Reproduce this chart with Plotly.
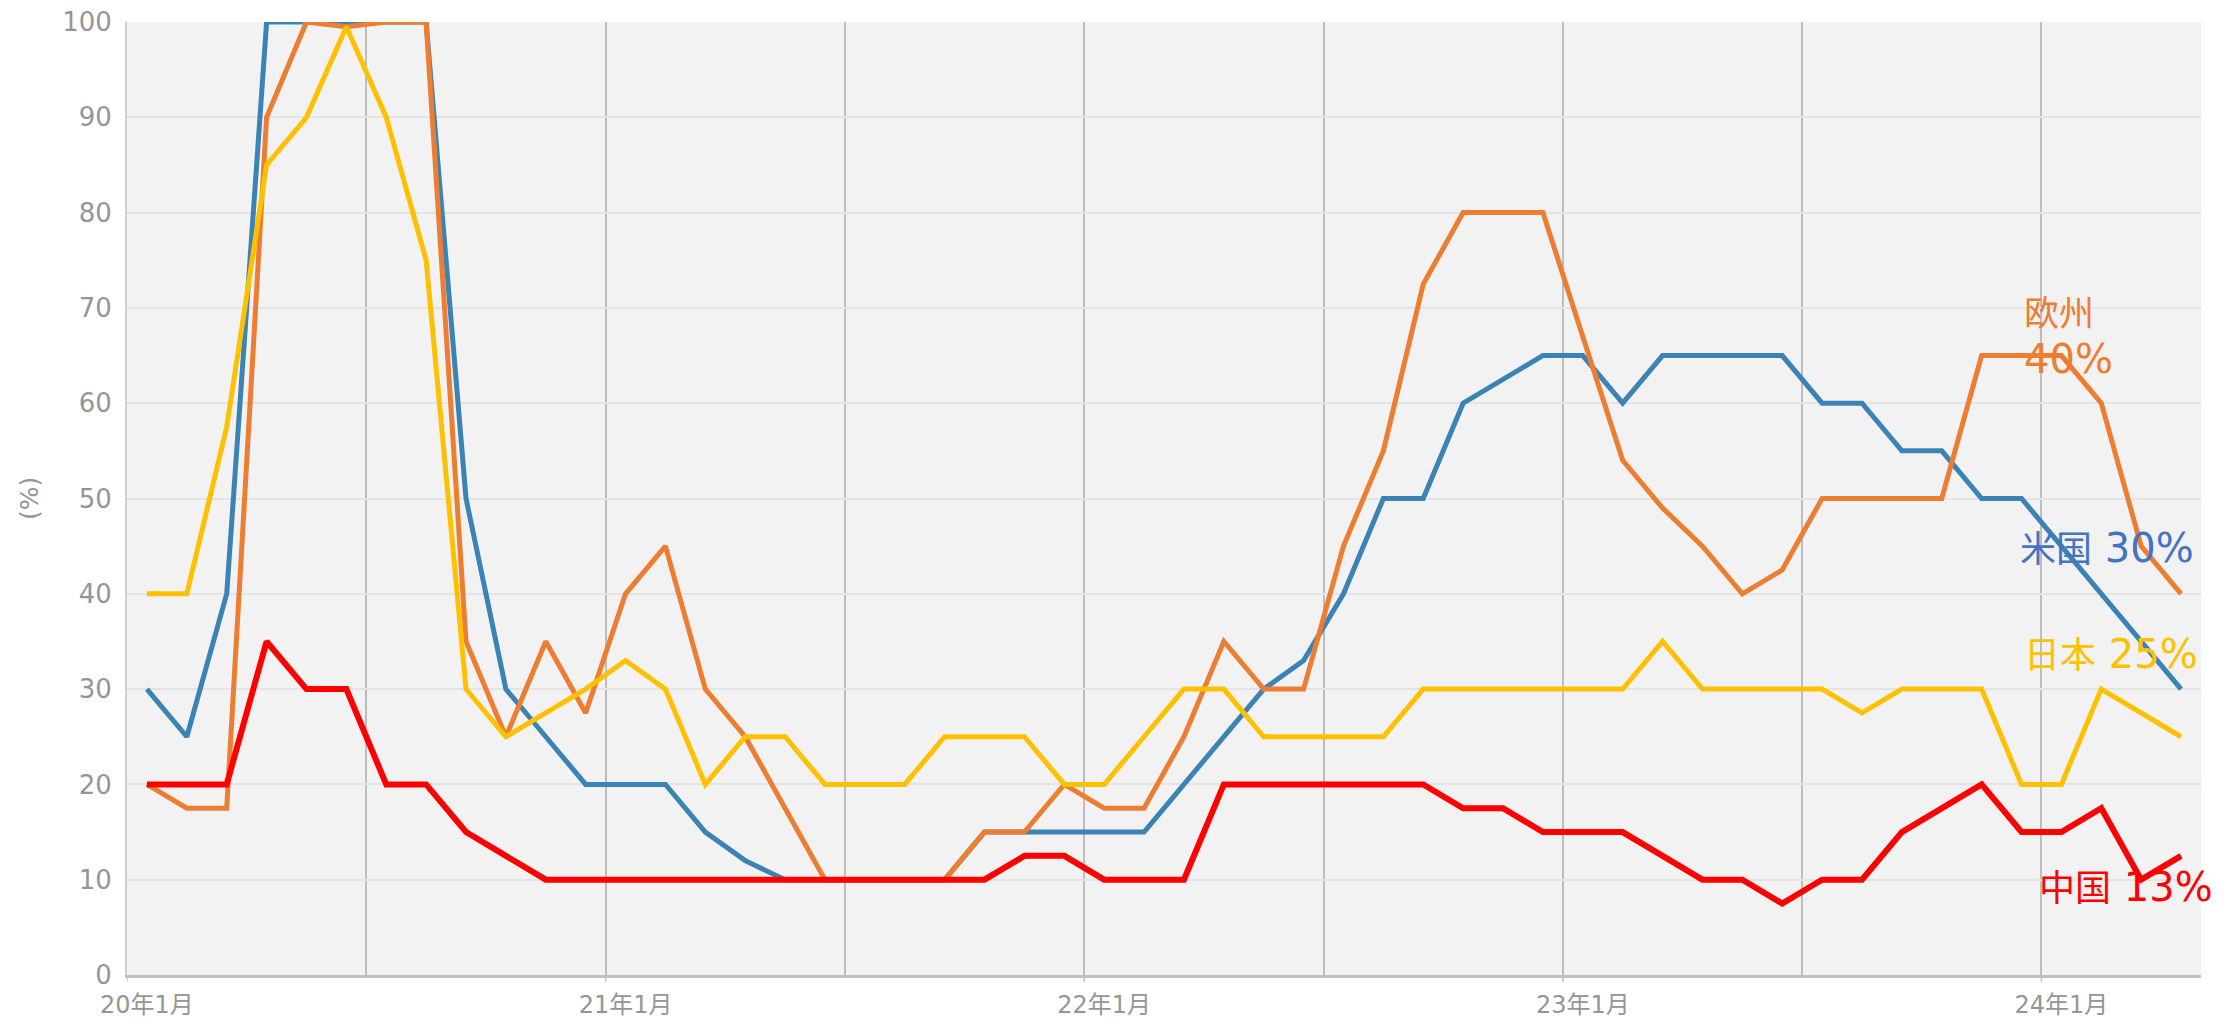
import plotly.graph_objects as go

# ---- data ----
months = [f"{y}年{m}月" for y in range(20, 25) for m in range(1, 13)][:52]

us = [30, 25, 40, 100, 100, 100, 100, 100, 50, 30, 25, 20,
      20, 20, 15, 12, 10, 10, 10, 10, 10, 15, 15, 15,
      15, 15, 20, 25, 30, 33, 40, 50, 50, 60, 62.5, 65,
      65, 60, 65, 65, 65, 65, 60, 60, 55, 55, 50, 50,
      45, 40, 35, 30]

europe = [20, 17.5, 17.5, 90, 100, 99.5, 100, 100, 35, 25, 35, 27.5,
          40, 45, 30, 25, 17.5, 10, 10, 10, 10, 15, 15, 20,
          17.5, 17.5, 25, 35, 30, 30, 45, 55, 72.5, 80, 80, 80,
          67, 54, 49, 45, 40, 42.5, 50, 50, 50, 50, 65, 65,
          65, 60, 45, 40]

japan = [40, 40, 57.5, 85, 90, 99.5, 90, 75, 30, 25, 27.5, 30,
         33, 30, 20, 25, 25, 20, 20, 20, 25, 25, 25, 20,
         20, 25, 30, 30, 25, 25, 25, 25, 30, 30, 30, 30,
         30, 30, 35, 30, 30, 30, 30, 27.5, 30, 30, 30, 20,
         20, 30, 27.5, 25]

china = [20, 20, 20, 35, 30, 30, 20, 20, 15, 12.5, 10, 10,
         10, 10, 10, 10, 10, 10, 10, 10, 10, 10, 12.5, 12.5,
         10, 10, 10, 20, 20, 20, 20, 20, 20, 17.5, 17.5, 15,
         15, 15, 12.5, 10, 10, 7.5, 10, 10, 15, 17.5, 20, 15,
         15, 17.5, 10, 12.5]

series_names = ["米国", "欧州", "日本", "中国"]
series_values = [us, europe, japan, china]
line_colors = ["#3A83B4", "#ED7D31", "#FFC000", "#FF0000"]
line_widths = [5, 5, 5, 6]
label_colors = ["#4472C4", "#ED7D31", "#FFC000", "#FF0000"]
end_labels = ["30%", "40%", "25%", "13%"]

LATIN = "DejaVu Sans, Noto Sans CJK JP"
TICK_COLOR = "#959595"

# ---- figure ----
x_idx = list(range(len(months)))
fig = go.Figure()
for name, vals, col, w in zip(series_names, series_values, line_colors, line_widths):
    fig.add_trace(go.Scatter(x=x_idx, y=vals, mode="lines", name=name,
                             line=dict(color=col, width=w), showlegend=False,
                             cliponaxis=False))

year_starts = [i for i, m in enumerate(months) if m.endswith("年1月")]
half_bounds = [i - 0.5 for i in range(6, len(months), 6)]
year_bounds = [i - 0.5 for i in year_starts]

fig.update_layout(
    width=2234, height=1020,
    margin=dict(l=119, r=41, t=14, b=53),
    paper_bgcolor="white", plot_bgcolor="#F2F2F2",
    font=dict(family=LATIN, color=TICK_COLOR),
)
fig.update_xaxes(
    range=[-0.5, len(months) - 0.5],
    tickmode="array", tickvals=year_starts,
    ticktext=[months[i] for i in year_starts],
    tickfont=dict(size=24, color=TICK_COLOR, family=LATIN),
    ticks="", showgrid=False, zeroline=False, automargin=False,
    showline=True, linecolor="#C0C0C0", linewidth=2.5,
    ticklabelstandoff=6,
    minor=dict(tickmode="array", tickvals=half_bounds, showgrid=True,
               gridcolor="#BDBDBD", gridwidth=1.5, ticks=""),
)
fig.update_yaxes(
    range=[0, 100], dtick=10,
    tickfont=dict(size=26, color=TICK_COLOR, family=LATIN),
    showgrid=True, gridcolor="#E4E4E4", gridwidth=2,
    zeroline=False, showline=True, linecolor="#CFCFCF", linewidth=2,
    ticks="", ticklen=0, ticklabelstandoff=8, automargin=False,
    ticklabeloverflow="allow",
)

# y-axis title
fig.add_annotation(x=-0.047, y=0.5, xref="paper", yref="paper",
                   text="(%)", textangle=-90, showarrow=False,
                   xanchor="center", yanchor="middle",
                   font=dict(size=25, color=TICK_COLOR, family=LATIN))

for b in year_bounds:
    fig.add_shape(type="line", xref="x", yref="paper", x0=b, x1=b,
                  y0=0, y1=-0.007, line=dict(color="#C0C0C0", width=1.5))

# end labels
def lab(name, val, size_cjk=36):
    return f"<span style='font-size:{size_cjk}px'>{name}</span> {val}"

fig.add_annotation(x=46.9, y=44.8, xref="x", yref="y", xanchor="left", yanchor="middle",
                   text=lab(series_names[0], end_labels[0]), showarrow=False,
                   font=dict(size=40, color=label_colors[0], family=LATIN))
fig.add_annotation(x=47.0, y=69.4, xref="x", yref="y", xanchor="left", yanchor="middle",
                   text=series_names[1], showarrow=False,
                   font=dict(size=35, color=label_colors[1], family=LATIN))
fig.add_annotation(x=47.0, y=64.6, xref="x", yref="y", xanchor="left", yanchor="middle",
                   text=end_labels[1], showarrow=False,
                   font=dict(size=40, color=label_colors[1], family=LATIN))
fig.add_annotation(x=47.0, y=33.7, xref="x", yref="y", xanchor="left", yanchor="middle",
                   text=lab(series_names[2], end_labels[2]), showarrow=False,
                   font=dict(size=40, color=label_colors[2], family=LATIN))
fig.add_annotation(x=47.4, y=9.2, xref="x", yref="y", xanchor="left", yanchor="middle",
                   text=lab(series_names[3], end_labels[3]), showarrow=False,
                   font=dict(size=40, color=label_colors[3], family=LATIN))

fig.write_html("out.html")
